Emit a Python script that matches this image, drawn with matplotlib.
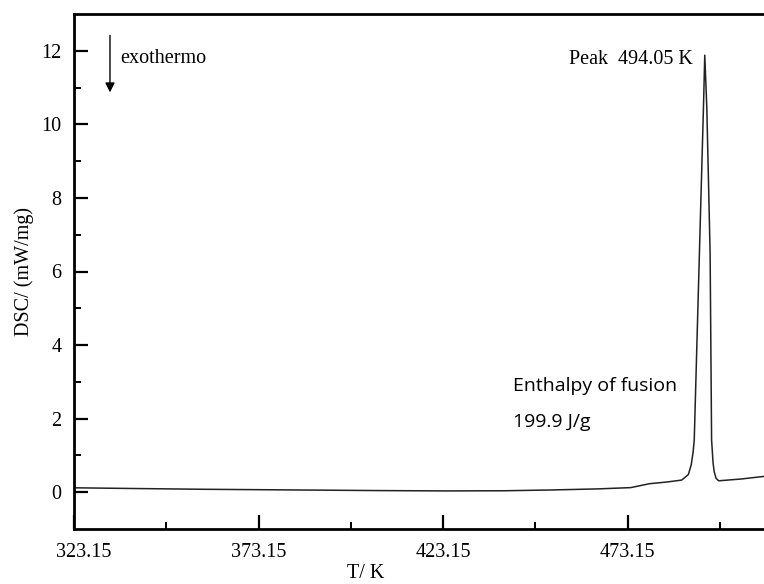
import matplotlib.pyplot as plt
import matplotlib.transforms as mtransforms
from matplotlib.ticker import FixedLocator

# DSC trace
temperature = [323.15, 340.0, 358.0, 385.0, 405.0, 424.0, 440.0, 452.0, 465.0,
               474.0, 479.0, 484.0, 487.8, 489.6, 490.4, 490.9, 491.2, 492.6,
               493.7, 494.05, 494.6, 495.5, 495.9, 496.3, 496.6, 497.1, 497.8,
               504.0, 510.1]
dsc = [0.12, 0.10, 0.08, 0.06, 0.045, 0.035, 0.04, 0.06, 0.09,
       0.125, 0.23, 0.28, 0.33, 0.48, 0.75, 1.1, 1.42, 6.5,
       10.47, 11.88, 10.47, 6.5, 1.42, 0.8, 0.56, 0.38, 0.31,
       0.36, 0.43]

x_ticks = [323.15, 373.15, 423.15, 473.15]
x_tick_labels = ["323.15", "373.15", "423.15", "473.15"]
y_ticks = [0, 2, 4, 6, 8, 10, 12]
peak_label = "Peak  494.05 K"
enthalpy_lines = ["Enthalpy of fusion", "199.9 J/g"]

serif = "Liberation Serif"

fig = plt.figure(figsize=(7.64, 5.84), dpi=100)
ax = fig.add_axes([74 / 764, 55 / 584, 690 / 764, 515 / 584])

ax.plot(temperature, dsc, color="#222222", linewidth=1.1)

ax.set_xlim(323.15, 510.1)
ax.set_ylim(-1, 13)

ax.xaxis.set_major_locator(FixedLocator(x_ticks))
ax.xaxis.set_minor_locator(FixedLocator([t + 25 for t in x_ticks]))
ax.set_xticklabels(x_tick_labels)
ax.yaxis.set_major_locator(FixedLocator(y_ticks))
ax.yaxis.set_minor_locator(FixedLocator([t + 1 for t in y_ticks[:-1]]))

ax.tick_params(which="major", direction="in", length=10, width=1.6,
               labelsize=14.5)
ax.tick_params(axis="x", which="major", pad=10)
ax.tick_params(axis="y", which="major", pad=9)
ax.tick_params(which="minor", direction="in", length=5, width=1.4)
for lab in ax.get_xticklabels() + ax.get_yticklabels():
    lab.set_fontfamily(serif)

# first x label sits a little right of its tick in the original
first = ax.get_xticklabels()[0]
first.set_transform(first.get_transform() +
                    mtransforms.ScaledTranslation(10 / 100, 0, fig.dpi_scale_trans))

for side in ["left", "bottom", "top"]:
    ax.spines[side].set_linewidth(2)
ax.spines["right"].set_visible(False)

ax.set_xlabel("T/ K", fontfamily=serif, fontsize=14.5)
ax.xaxis.set_label_coords(0.423, -0.068)
ax.set_ylabel("DSC/ (mW/mg)", fontfamily=serif, fontsize=14.5)
ax.yaxis.set_label_coords(-0.058, 0.5)

# exotherm direction arrow
ax.annotate("", xy=(332.9, 10.87), xytext=(332.9, 12.42),
            arrowprops=dict(arrowstyle="-|>", color="black", lw=1.0,
                            mutation_scale=14, shrinkA=0, shrinkB=0))
ax.text(335.6, 11.78, "exothermo", fontfamily=serif, fontsize=14.5,
        va="center", ha="left")

ax.text(490.9, 11.76, peak_label, fontfamily=serif, fontsize=14.5,
        va="center", ha="right")

ax.text(442.1, 2.89, enthalpy_lines[0], fontfamily="Open Sans", fontsize=14,
        va="center", ha="left")
ax.text(442.1, 1.91, enthalpy_lines[1], fontfamily="Open Sans", fontsize=14,
        va="center", ha="left")

fig.savefig("out.png", dpi=100)
